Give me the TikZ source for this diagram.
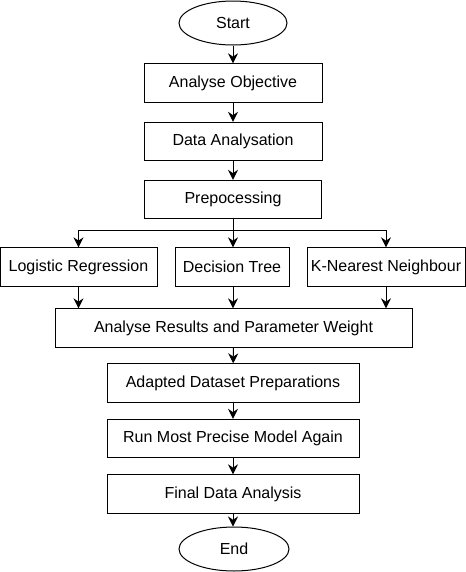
\documentclass[tikz,border=0pt]{standalone}
\usepackage{fontspec}
\setmainfont{Liberation Sans}
\usetikzlibrary{shapes.geometric,arrows.meta}

\begin{document}
\begin{tikzpicture}[x=0.75pt,y=-0.75pt,
    every node/.style={font=\fontsize{12}{14}\selectfont},
    box/.style={draw, line width=0.75pt, inner sep=0pt, minimum height=28.75pt},
    term/.style={draw, ellipse, line width=0.75pt, inner sep=0pt, minimum width=81pt, minimum height=33pt},
    arr/.style={line width=0.75pt, -{Stealth[length=7.5pt,width=7.5pt,inset=2.5pt]}}]
            \useasboundingbox (0,0) rectangle (465,572);
            % main column
            \node[term] (start) at (233,23) {Start};
            \node[box, minimum width=133.5pt] (aobj) at (233,83) {Analyse Objective};
            \node[box, minimum width=133.5pt] (danal) at (233,141.5) {Data Analysation};
            \node[box, minimum width=133pt] (prep) at (233,199.5) {Prepocessing};
            % models
            \node[box, minimum width=117.75pt] (logreg) at (78.5,267) {Logistic Regression};
            \node[box, minimum width=85.5pt] (dtree) at (232,267) {Decision Tree};
            \node[box, minimum width=118.5pt] (knn) at (386,267) {K-Nearest Neighbour};
            \node[box, minimum width=267.75pt] (results) at (233.5,328) {Analyse Results and Parameter Weight};
            % second run
            \node[box, minimum width=189pt] (adapt) at (233,383) {Adapted Dataset Preparations};
            \node[box, minimum width=189pt] (rerun) at (233,438.5) {Run Most Precise Model Again};
            \node[box, minimum width=189pt] (final) at (233,494) {Final Data Analysis};
            \node[term, minimum width=82.5pt] (end) at (234,549) {End};
            \coordinate (split) at (233,230);
            % arrows
            \draw[arr] (start) -- (aobj);
            \draw[arr] (aobj) -- (danal);
            \draw[arr] (danal) -- (prep);
            \draw[line width=0.75pt] (prep) -- (split);
            \draw[arr] (split) -| (logreg);
            \draw[arr] (split) -- (split |- dtree.north);
            \draw[arr] (split) -| (knn);
            \draw[arr] (logreg) -- (logreg |- results.north);
            \draw[arr] (split |- dtree.south) -- (split |- results.north);
            \draw[arr] (knn) -- (knn |- results.north);
            \draw[arr] (results) -- (adapt);
            \draw[arr] (adapt) -- (rerun);
            \draw[arr] (rerun) -- (final);
            \draw[arr] (final) -- (final |- end.north);
\end{tikzpicture}
\end{document}
